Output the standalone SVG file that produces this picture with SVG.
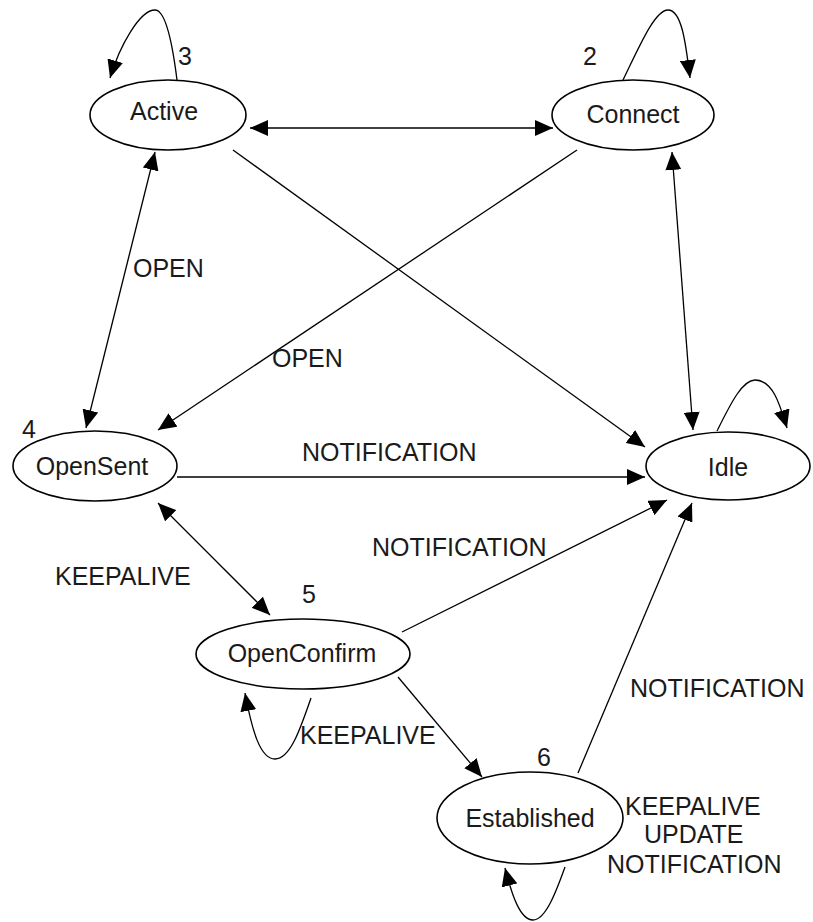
<svg xmlns="http://www.w3.org/2000/svg" width="813" height="922" viewBox="0 0 813 922">
  <style>
    .state ellipse { fill: #ffffff; stroke: #000000; stroke-width: 1.6; }
    text { font-family: "Liberation Sans", Arial, sans-serif; font-size: 25px; fill: #1a1a1a; }
    .name { text-anchor: middle; }
    .edge { fill: none; stroke: #000000; stroke-width: 1.3; }
    .one { marker-end: url(#head); }
    .two { marker-start: url(#head); marker-end: url(#head); }
  </style>
  <defs>
    <marker id="head" viewBox="0 0 18 16" refX="18" refY="8" markerWidth="18" markerHeight="16" markerUnits="userSpaceOnUse" orient="auto-start-reverse">
      <path d="M0,0 L18,8 L0,16 z" fill="#000000"/>
    </marker>
  </defs>
  <rect width="813" height="922" fill="#ffffff"/>

  <g id="connectors">
    <path class="edge two" d="M250,128 L553,128"/>
    <path class="edge one" d="M233,150 L645,447"/>
    <path class="edge one" d="M577,150 L158,430"/>
    <path class="edge two" d="M155,152 L86,428"/>
    <path class="edge two" d="M672,152 L693,430"/>
    <path class="edge one" d="M717,431 C730,405 742,380 755,380 C773,380 780,405 787,428"/>
    <path class="edge one" d="M177,477 L645,477"/>
    <path class="edge two" d="M158,503 L270,615"/>
    <path class="edge one" d="M402,632 L667,500"/>
    <path class="edge one" d="M578,773 L692,503"/>
    <path class="edge one" d="M398,677 L482,777"/>
    <path class="edge one" d="M311,698 C300,730 290,759 275,759 C260,759 252,730 245,693"/>
    <path class="edge one" d="M565,867 C555,895 545,920 533,920 C520,920 512,895 505,868"/>
    <path class="edge one" d="M177,80 C172,40 165,10 155,10 C140,10 120,45 110,78"/>
    <path class="edge one" d="M623,80 C640,45 655,10 668,10 C682,10 686,45 690,78"/>
  </g>

  <g id="edge-labels">
    <text x="133" y="277">OPEN</text>
    <text x="272" y="367">OPEN</text>
    <text x="302" y="461">NOTIFICATION</text>
    <text x="372" y="556">NOTIFICATION</text>
    <text x="55" y="585">KEEPALIVE</text>
    <text x="300" y="744">KEEPALIVE</text>
    <text x="630" y="697">NOTIFICATION</text>
    <text x="625" y="815">KEEPALIVE</text>
    <text x="644" y="843">UPDATE</text>
    <text x="607" y="873">NOTIFICATION</text>
  </g>

  <g id="active" class="state">
    <ellipse cx="168" cy="115" rx="78" ry="35"/>
    <text class="name" x="164" y="120">Active</text>
    <text x="178" y="65">3</text>
  </g>
  <g id="connect" class="state">
    <ellipse cx="633" cy="115" rx="81" ry="35"/>
    <text class="name" x="633" y="123">Connect</text>
    <text x="583" y="65">2</text>
  </g>
  <g id="idle" class="state">
    <ellipse cx="728" cy="466" rx="82" ry="34"/>
    <text class="name" x="728" y="476">Idle</text>
  </g>
  <g id="opensent" class="state">
    <ellipse cx="95" cy="466" rx="82" ry="35"/>
    <text class="name" x="92" y="475">OpenSent</text>
    <text x="22" y="438">4</text>
  </g>
  <g id="openconfirm" class="state">
    <ellipse cx="303" cy="654" rx="107" ry="35"/>
    <text class="name" x="302" y="662">OpenConfirm</text>
    <text x="302" y="603">5</text>
  </g>
  <g id="established" class="state">
    <ellipse cx="530" cy="818" rx="93" ry="46"/>
    <text class="name" x="530" y="827">Established</text>
    <text x="537" y="766">6</text>
  </g>
</svg>
